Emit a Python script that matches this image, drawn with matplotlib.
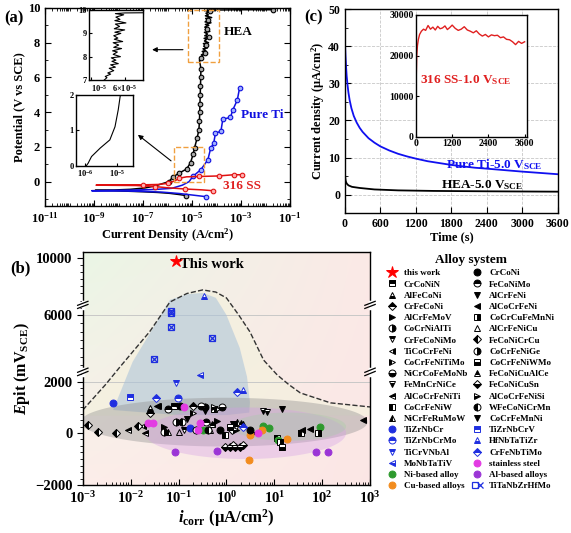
import numpy as np
import matplotlib
matplotlib.use("Agg")
import matplotlib.pyplot as plt
from matplotlib.legend_handler import HandlerTuple
from matplotlib.ticker import LogLocator, MultipleLocator, FixedLocator, NullFormatter

plt.rcParams['font.family'] = ['Liberation Serif', 'DejaVu Serif']
plt.rcParams['font.weight'] = 'bold'
plt.rcParams['axes.labelweight'] = 'bold'
plt.rcParams['mathtext.fontset'] = 'custom'
plt.rcParams['mathtext.rm'] = 'Liberation Serif:bold'
plt.rcParams['mathtext.it'] = 'Liberation Serif:italic:bold'
plt.rcParams['mathtext.bf'] = 'Liberation Serif:bold'
plt.rcParams['xtick.direction'] = 'in'
plt.rcParams['ytick.direction'] = 'in'
plt.rcParams['axes.linewidth'] = 1.0

# ---------------- data: (a) polarization curves ----------------
hea_low_i = [5.6e-6, 3e-6, 1.2e-6, 4e-7, 1e-7, 2.5e-8, 6e-9, 1.1e-9, 6e-9, 3e-8, 1.2e-7, 3e-7,
             1.1e-6, 1.25e-6, 1.6e-6, 3e-6, 6e-6, 8.7e-6, 1.1e-5, 1.26e-5, 1.6e-5, 1.9e-5,
             2.0e-5, 2.05e-5, 2.1e-5, 2.15e-5, 2.2e-5, 2.25e-5, 2.3e-5]
hea_low_e = [-0.8, -0.74, -0.67, -0.62, -0.58, -0.55, -0.52, -0.5, -0.48, -0.44, -0.36, -0.25,
             0.0, 0.07, 0.26, 0.5, 0.73, 1.1, 1.58, 1.95, 2.5, 3.0, 3.5, 4.0, 4.5, 5.0, 5.5, 6.0, 6.5]
# noisy passive region 7-10 V (upper inset)
hea_noise_e = [7.0, 7.1, 7.15, 7.25, 7.3, 7.4, 7.5, 7.55, 7.65, 7.7, 7.8, 7.85, 7.95, 8.0, 8.1,
               8.2, 8.25, 8.35, 8.4, 8.5, 8.6, 8.65, 8.75, 8.8, 8.9, 9.0, 9.05, 9.15, 9.2, 9.3,
               9.4, 9.45, 9.55, 9.6, 9.7, 9.8, 9.85]
hea_noise_i = [2.0e-5, 2.3e-5, 2.1e-5, 2.8e-5, 2.4e-5, 3.3e-5, 2.6e-5, 3.6e-5, 2.8e-5, 4.2e-5,
               3.0e-5, 3.7e-5, 2.9e-5, 4.7e-5, 3.2e-5, 4.0e-5, 3.1e-5, 5.0e-5, 3.3e-5, 4.3e-5,
               3.2e-5, 5.3e-5, 3.4e-5, 4.1e-5, 3.3e-5, 4.8e-5, 3.5e-5, 5.9e-5, 3.4e-5, 4.5e-5,
               3.6e-5, 6.3e-5, 3.5e-5, 4.6e-5, 3.7e-5, 5.6e-5, 3.6e-5]
hea_top_e = [9.88, 9.9, 9.9]
hea_top_i = [6e-5, 1e-3, 2e-2]

ti_i = [3.6e-5, 1.2e-5, 3e-6, 6e-7, 1e-7, 2e-8, 4e-9, 8e-10, 5e-9, 4e-8, 3e-7, 1.5e-6, 4e-6,
        7.5e-6, 1.07e-5, 2.3e-5, 4.4e-5, 5.8e-5, 7.6e-5, 9e-5, 1.5e-4, 1.8e-4, 3.7e-4, 4.5e-4,
        7e-4, 8.7e-4]
ti_e = [-0.86, -0.78, -0.68, -0.6, -0.56, -0.54, -0.53, -0.52, -0.5, -0.48, -0.45, -0.38, -0.2,
        0.0, 0.3, 0.7, 1.26, 1.95, 2.2, 2.8, 2.9, 3.6, 3.7, 4.1, 4.7, 5.4]

ss_i = [7e-5, 2.5e-5, 5e-6, 1e-6, 3e-7, 5e-8, 1.2e-9, 1e-8, 1e-7, 4e-7, 1e-6, 2e-6, 3e-6, 6e-6,
        2e-5, 1.2e-4, 5e-4, 1.1e-3]
ss_e = [-0.52, -0.47, -0.42, -0.35, -0.28, -0.22, -0.2, -0.19, -0.18, -0.16, -0.1, 0.05, 0.2,
        0.28, 0.3, 0.33, 0.4, 0.4]

# ---------------- data: (c) potentiostatic curves ----------------
ti_t = [0, 5, 10, 20, 30, 45, 60, 80, 110, 150, 200, 250, 300, 400, 500, 600, 750, 900, 1050,
        1200, 1400, 1600, 1800, 2000, 2200, 2400, 2700, 3000, 3300, 3600]
ti_j = [42, 39.5, 37.5, 34.5, 32, 29.5, 27.5, 25.5, 23.3, 21.2, 19.4, 18.0, 16.9, 15.2, 14.0,
        13.0, 11.9, 11.0, 10.3, 9.7, 9.0, 8.5, 8.0, 7.6, 7.25, 7.0, 6.6, 6.2, 5.85, 5.5]
hea_t = [0, 3, 8, 15, 30, 60, 120, 250, 500, 900, 1500, 2400, 3600]
hea_j = [7, 5.5, 4.3, 3.6, 3.0, 2.5, 2.1, 1.8, 1.4, 1.15, 1.0, 0.9, 0.8]
ss316_t = [0, 10, 25, 50, 80, 120, 180, 250, 320, 400, 480, 560, 640, 720, 800, 880, 960, 1040,
           1120, 1200, 1300, 1400, 1500, 1600, 1700, 1800, 1900, 2000, 2100, 2200, 2300, 2400,
           2500, 2600, 2700, 2800, 2900, 3000, 3100, 3200, 3300, 3400, 3500, 3600]
ss316_j = [0, 15000, 20000, 22500, 24000, 25200, 26000, 26500, 26200, 27400, 26500, 27000, 26300,
           27200, 26600, 26800, 27300, 26400, 26900, 27500, 26700, 26200, 26500, 27100, 26300,
           26000, 25600, 26100, 25300, 24800, 25200, 24600, 25100, 24900, 25000, 24400, 24600,
           24000, 23900, 23400, 22700, 23500, 23000, 23400]

# ---------------- data: (b) Epit vs icorr ----------------
alloy_names = ["this work", "CrCoNiN", "AlFeCoNi", "CrFeCoNi", "AlCrFeMoV", "CoCrNiAlTi",
               "CrFeCoNiMo", "TiCoCrFeNi", "CoCrFeNiTiMo", "NiCrCoFeMoNb", "FeMnCrNiCe",
               "AlCoCrFeNiTi", "CoCrFeNiW", "NiCrFeRuMoW", "TiZrNbCr", "TiZrNbCrMo", "TiCrVNbAl",
               "MoNbTaTiV", "Ni-based alloy", "Cu-based alloys",
               "CrCoNi", "FeCoNiMo", "AlCrFeNi", "AlCoCrFeNi", "CoCrCuFeMnNi", "AlCrFeNiCu",
               "FeCoNiCrCu", "CoCrFeNiGe", "CoCrFeNiWMo", "FeCoNiCuAlCe", "FeCoNiCuSn",
               "AlCoCrFeNiSi", "WFeCoNiCrMn", "CoCrFeMnNi", "TiZrNbCrV", "HfNbTaTiZr",
               "CrFeNbTiMo", "stainless steel", "Al-based alloys", "TiTaNbZrHfMo"]
icorr = [[0.09], [0.08, 0.55], [0.025, 0.11], [0.025, 0.2, 1.3], [0.05, 0.65, 3.6],
         [0.09, 0.35], [0.13, 1.55], [0.018, 0.49], [0.2, 0.64], [0.3, 0.79], [5.9, 6.9],
         [0.0089, 0.02, 0.035], [0.95, 11.2, 37], [0.06, 1.7, 2.2], [0.0043, 0.17], [0.098],
         [0.087], [0.28], [0.32, 5.9, 7.6, 12, 91], [3.1, 5.5, 18.5, 2.9],
         [0.107, 0.74, 3.1], [0.06, 0.38], [0.15, 1.35], [0.037, 38, 56, 725], [13.2, 83],
         [0.45, 0.1], [0.0013, 0.0021, 0.005, 0.014], [0.05, 0.23], [14.5, 1.2], [0.49, 2.0],
         [0.93, 1.2, 1.5, 1.9, 1.4, 2.2], [0.54, 1.6], [0.12, 0.42], [14.8, 0.36], [0.0095],
         [0.34, 2.2], [0.034, 1.7, 2.2], [0.13, 0.023, 0.029, 0.28, 0.26, 4.6],
         [0.085, 0.63, 74, 130], [0.031, 0.069, 0.069, 0.069, 0.5]]
epit = [[9800], [1070, 940], [980, 480], [780, 1070, 120], [250, 480, -10], [420, 1000],
        [120, 250], [290, 350], [770, 940], [1070, 1000], [850, 810], [120, 0, 1070],
        [-80, -210, -10], [50, 420, 350], [1180, 200], [1370], [1960], [2420],
        [120, 270, 200, -270, 240], [-80, 120, -230, -1020],
        [1070, 120, 130], [940, 420], [550, 350], [1070, 120, 150, 520], [-340, -10], [120, 50],
        [310, 30, 10, 290], [50, 120], [-530, 250], [350, 400],
        [-530, -530, -530, -530, -450, -450], [1000, 120], [420, 120], [920, 860], [1410],
        [7330, 1690], [1370, 1600, 240], [1020, 390, 390, 390, 120, 0],
        [-750, -700, -750, -750], [3370, 5250, 6140, 6260, 4650]]

# dashed envelope and blue (Ti-based) region outline
env_icorr = [1e-3, 3e-3, 6e-3, 0.025, 0.066, 0.15, 0.32, 0.6, 1.0, 1.8, 3.1, 6, 11.5, 20, 35, 150, 1000]
env_epit = [900, 1900, 2900, 5000, 6900, 7500, 7750, 7600, 7190, 6000, 4990, 3300, 2420, 1900, 1570, 1180, 1020]
blue_icorr = [0.0043, 0.011, 0.035, 0.066, 0.15, 0.32, 0.6, 1.0, 1.9, 2.7, 3.1, 3.0, 1.0, 0.1, 0.0043]
blue_epit = [900, 3200, 5580, 7050, 7450, 7540, 7200, 6000, 4030, 2300, 1200, 800, 700, 700, 900]

# ---------------- styles for (b) ----------------
K, B = 'black', '#1f2fe0'
alloy_style = [('*', 'full', 'red'), ('s', 'top', K), ('^', 'bottom', K), ('D', 'top', K),
               ('>', 'full', K), ('o', 'right', K), ('v', 'top', K), ('<', 'right', K),
               ('>', 'left', K), ('o', 'bottom', K), ('v', 'bottom', K), ('<', 'top', K),
               ('s', 'left', K), ('^', 'left', K), ('o', 'full', B), ('o', 'top', B),
               ('v', 'top', B), ('<', 'bottom', B), ('o', 'full', '#2e9a2e'),
               ('o', 'full', '#f28c1e'),
               ('o', 'full', K), ('o', 'top', K), ('v', 'full', K), ('<', 'full', K),
               ('s', 'right', K), ('^', 'none', K), ('D', 'left', K), ('o', 'right', K),
               ('s', 'bottom', K), ('^', 'top', K), ('D', 'bottom', K), ('>', 'bottom', K),
               ('o', 'left', K), ('v', 'full', K), ('s', 'top', B), ('^', 'bottom', B),
               ('D', 'top', B), ('o', 'full', '#e33be3'), ('o', 'full', '#9b35d6'),
               ('s', 'none', B)]

fig = plt.figure(figsize=(5.71, 5.33), dpi=100)

# ======================= (a) =======================
ax_a = fig.add_axes([0.079, 0.6135, 0.429, 0.3715])
ax_a.set_xscale('log')
hea_i = hea_low_i + hea_noise_i + hea_top_i
hea_e = hea_low_e + hea_noise_e + hea_top_e
mk = dict(marker='o', ms=3.3, mew=0.8)
ax_a.plot(hea_i, hea_e, color='black', lw=1.1, mfc='#aaaaaa', mec='black',
          markevery=[0, 12, 14, 15, 16, 17, 18, 19, 20, 21, 22, 23, 24, 25, 26, 27, 28, 30, 34,
                     40, 46, 52, 58, 64, 68], **mk)
ax_a.plot(ti_i, ti_e, color='#1010e0', lw=1.1, mfc='#9fb0ff', mec='#1010e0',
          markevery=[0, 14, 15, 16, 17, 18, 19, 20, 21, 22, 23, 24, 25], **mk)
ax_a.plot(ss_i, ss_e, color='#e01010', lw=1.1, mfc='#ffb0b0', mec='#e01010',
          markevery=[0, 2, 4, 8, 10, 12, 14, 15, 16, 17], **mk)
ax_a.set_xlim(1e-11, 1e-1)
ax_a.set_ylim(-1.4, 10)
ax_a.set_xticks([1e-11, 1e-9, 1e-7, 1e-5, 1e-3, 1e-1])
ax_a.xaxis.set_minor_locator(LogLocator(base=10, subs=np.arange(1, 10), numticks=40))
ax_a.xaxis.set_minor_formatter(NullFormatter())
ax_a.set_yticks([0, 2, 4, 6, 8, 10])
ax_a.yaxis.set_minor_locator(MultipleLocator(1))
ax_a.tick_params(which='both', top=True, right=True, labelsize=9)
ax_a.tick_params(which='major', length=4)
ax_a.tick_params(which='minor', length=2)
ax_a.set_xlabel('Current Density (A/cm$^2$)', fontsize=9, labelpad=1)
ax_a.set_ylabel('Potential (V vs SCE)', fontsize=9, labelpad=2)
ax_a.text(2e-4, 8.6, 'HEA', fontsize=9.5, fontweight='bold', color='black', va='center')
ax_a.text(1e-3, 3.85, 'Pure Ti', fontsize=9.5, fontweight='bold', color='#1010e0', va='center')
ax_a.text(1.8e-4, -0.25, '316 SS', fontsize=9.5, fontweight='bold', color='#e02020', va='center')

box_kw = dict(fill=False, ls='--', lw=1.0, ec='#f0a040', zorder=5)
ax_a.add_patch(plt.Rectangle((6.8e-6, 6.9), 1.23e-4 - 6.8e-6, 3.0, **box_kw))
ax_a.add_patch(plt.Rectangle((1.8e-6, 0.0), 3.0e-5 - 1.8e-6, 2.0, **box_kw))
ax_a.annotate('', xy=(1.8e-7, 7.6), xytext=(5.5e-6, 7.6),
              arrowprops=dict(arrowstyle='-|>', color='black', lw=0.8, mutation_scale=7))
ax_a.annotate('', xy=(5e-8, 2.8), xytext=(1.7e-6, 1.1),
              arrowprops=dict(arrowstyle='-|>', color='black', lw=0.8, mutation_scale=7))

# upper inset
ax_i1 = fig.add_axes([0.156, 0.850, 0.094, 0.131])
ax_i1.set_xscale('log')
ax_i1.plot(hea_noise_i + hea_top_i, hea_noise_e + hea_top_e, color='black', lw=0.8)
ax_i1.set_xlim(8.9e-6, 1.54e-4)
ax_i1.set_ylim(7, 10)
ax_i1.xaxis.set_major_locator(FixedLocator([1e-5, 6e-5]))
ax_i1.xaxis.set_minor_locator(FixedLocator([]))
ax_i1.set_xticklabels(['10$^{-5}$', '6×10$^{-5}$'])
ax_i1.get_xticklabels()[0].set_horizontalalignment('left')
ax_i1.set_yticks([7, 8, 9, 10])
ax_i1.tick_params(labelsize=6, length=2)
ax_i1.tick_params(axis='x', pad=2)
ax_i1.tick_params(axis='y', pad=1.5)

# lower inset
ax_i2 = fig.add_axes([0.133, 0.689, 0.100, 0.133])
ax_i2.set_xscale('log')
ax_i2.plot(hea_low_i, hea_low_e, color='black', lw=0.8)
ax_i2.set_xlim(5.2e-7, 3.2e-5)
ax_i2.set_ylim(0, 2)
ax_i2.xaxis.set_major_locator(FixedLocator([1e-6, 1e-5]))
ax_i2.xaxis.set_minor_locator(FixedLocator([]))
ax_i2.set_xticklabels(['10$^{-6}$', '10$^{-5}$'])
ax_i2.set_yticks([0, 1, 2])
ax_i2.tick_params(labelsize=6, length=2, pad=1.5)

# ======================= (c) =======================
ax_c = fig.add_axes([0.604, 0.600, 0.373, 0.383])
ax_c.plot(ti_t, ti_j, color='#1010f0', lw=1.3)
ax_c.plot(hea_t, hea_j, color='black', lw=1.3)
ax_c.set_xlim(0, 3600)
ax_c.set_ylim(-5, 50)
ax_c.set_xticks([0, 600, 1200, 1800, 2400, 3000, 3600])
ax_c.set_yticks([0, 10, 20, 30, 40, 50])
ax_c.yaxis.set_minor_locator(MultipleLocator(5))
ax_c.grid(True, ls='--', lw=0.6, color='#c8c8c8')
ax_c.tick_params(which='both', labelsize=8.5)
ax_c.tick_params(which='major', length=4)
ax_c.tick_params(which='minor', length=2)
ax_c.set_xlabel('Time (s)', fontsize=9, labelpad=1)
ax_c.set_ylabel('Current density (μA/cm$^2$)', fontsize=9, labelpad=1)
ax_c.text(3340, 8.2, 'Pure Ti-5.0 V$_{\\mathrm{SCE}}$', color='#1010f0', fontsize=9.5,
          ha='right', va='center')
ax_c.text(2320, 2.6, 'HEA-5.0 V$_{\\mathrm{SCE}}$', color='black', fontsize=9.5,
          ha='center', va='center')

ax_ci = fig.add_axes([0.7285, 0.743, 0.1945, 0.229])
ax_ci.plot(ss316_t, ss316_j, color='#e02020', lw=1.0)
ax_ci.set_xlim(0, 3680)
ax_ci.set_ylim(0, 30000)
ax_ci.set_xticks([0, 1200, 2400, 3600])
ax_ci.set_yticks([0, 10000, 20000, 30000])
ax_ci.tick_params(labelsize=7, length=2.5, pad=1.5)
ax_ci.text(1650, 14000, '316 SS-1.0 V$_{\\mathrm{SCE}}$', color='#e02020', fontsize=9.5,
           ha='center', va='center')

# ======================= (b) =======================
brk_data = [-4000, -2000, 0, 2000, 6000, 10000, 14000]
brk_disp = [-52, 0, 52, 103, 170, 227, 284]


def fwd(y):
    return np.interp(y, brk_data, brk_disp)


def inv(y):
    return np.interp(y, brk_disp, brk_data)


ax_b = fig.add_axes([0.145, 0.090, 0.503, 0.437])
ax_b.set_xscale('log')
ax_b.set_yscale('function', functions=(fwd, inv))
ax_b.set_xlim(1e-3, 1e3)
ax_b.set_ylim(-2000, 10400)

# background gradient
gx = np.linspace(0, 1, 64)
gy = np.linspace(0, 1, 64)
GX, GY = np.meshgrid(gx, gy)
c_tl = np.array([0.92, 0.965, 0.90])
c_tr = np.array([0.985, 0.915, 0.905])
c_bl = np.array([0.99, 0.93, 0.915])
c_br = np.array([0.985, 0.905, 0.90])
grad = ((1 - GX)[..., None] * GY[..., None] * c_tl + GX[..., None] * GY[..., None] * c_tr +
        (1 - GX)[..., None] * (1 - GY)[..., None] * c_bl + GX[..., None] * (1 - GY)[..., None] * c_br)
ax_b.imshow(grad, extent=[0, 1, 0, 1], origin='lower', transform=ax_b.transAxes,
            aspect='auto', zorder=0, interpolation='bilinear')

ax_b.fill_between(env_icorr, env_epit, 700, color='#f4f1de', alpha=0.7, lw=0, zorder=1)
ax_b.fill(blue_icorr, blue_epit, color='#a9c2da', alpha=0.55, lw=0, zorder=1.2)

t = np.linspace(0, 2 * np.pi, 200)
for cx, ax_w, cy, ay, col, al in [(-0.05, 3.0, 430, 950, '#8c8c8c', 0.38),
                                  (0.4, 2.1, 0, 1000, '#d49be6', 0.35),
                                  (1.3, 1.2, 250, 550, '#9fd09f', 0.3)]:
    ax_b.fill(10 ** (cx + ax_w * np.cos(t)), cy + ay * np.sin(t), color=col, alpha=al,
              lw=0, zorder=1.5)

ax_b.plot(env_icorr, env_epit, ls='--', color='#333333', lw=1.0, zorder=2)
ax_b.axhline(2000, color='#c8c8c8', lw=0.7, zorder=1.1)
ax_b.axhline(6000, color='#c8c8c8', lw=0.7, zorder=1.1)

handles = []
for name, xs, ys, (m, fs, col) in zip(alloy_names, icorr, epit, alloy_style):
    ms = 9 if m == '*' else (4.2 if m == 'D' else 5)
    if name == 'TiTaNbZrHfMo':
        h1, = ax_b.plot(xs, ys, ls='none', marker='s', ms=5, mfc='none', mec=col, mew=0.9, zorder=3)
        h2, = ax_b.plot(xs, ys, ls='none', marker='x', ms=4, mec=col, mew=0.9, zorder=3)
        handles.append((h1, h2))
        continue
    h, = ax_b.plot(xs, ys, ls='none', marker=m, ms=ms, fillstyle=fs, mfc=col,
                   mfcalt='white', mec=col, mew=0.7, zorder=3)
    handles.append(h)

ax_b.text(0.105, 9500, 'This work', fontsize=10.5, fontweight='bold', va='center', zorder=4)

ax_b.set_xticks([1e-3, 1e-2, 1e-1, 1e0, 1e1, 1e2, 1e3])
ax_b.xaxis.set_minor_locator(LogLocator(base=10, subs=np.arange(2, 10), numticks=40))
ax_b.xaxis.set_minor_formatter(NullFormatter())
ax_b.yaxis.set_major_locator(FixedLocator([-2000, 0, 2000, 6000, 10000]))
ax_b.yaxis.set_minor_locator(FixedLocator(list(range(-2000, 2001, 250)) + list(range(2000, 10001, 500))))
ax_b.tick_params(axis='y', which='both', direction='out')
ax_b.tick_params(which='major', length=4, labelsize=10.5)
ax_b.tick_params(which='minor', length=2)
ax_b.set_xlabel('$\\mathit{i}_{\\mathrm{corr}}$ (μA/cm$^2$)', fontsize=12, labelpad=1)
ax_b.set_ylabel('$\\mathit{E}$pit (mV$_{\\mathrm{SCE}}$)', fontsize=11.5, labelpad=2)

# axis break marks
ytr = ax_b.get_yaxis_transform()
for yb, dy in [(6700, 200), (2600, 180)]:
    for xb in (0, 1):
        ax_b.plot([xb, xb], [yb - dy, yb + dy], color='white', lw=2.5, transform=ytr,
                  clip_on=False, zorder=6)
        for off in (-dy * 0.55, dy * 0.55):
            ax_b.plot([xb - 0.018, xb + 0.018], [yb + off - dy * 0.7, yb + off + dy * 0.7],
                      color='black', lw=0.9, transform=ytr, clip_on=False, zorder=7)

leg = fig.legend(handles, alloy_names, ncol=2, loc='upper left', bbox_to_anchor=(0.668, 0.535),
                 frameon=False, fontsize=6.5, title='Alloy system',
                 title_fontproperties={'weight': 'bold', 'size': 9.5},
                 handlelength=1.0, handletextpad=0.8, columnspacing=0.5, labelspacing=0.32,
                 borderpad=0.2, handler_map={tuple: HandlerTuple(ndivide=None, pad=0)})

# panel labels
fig.text(0.008, 0.965, '(a)', fontsize=12, fontweight='bold', va='center')
fig.text(0.533, 0.968, '(c)', fontsize=12, fontweight='bold', va='center')
fig.text(0.018, 0.497, '(b)', fontsize=12, fontweight='bold', va='center')

fig.savefig('out.png', dpi=100)
